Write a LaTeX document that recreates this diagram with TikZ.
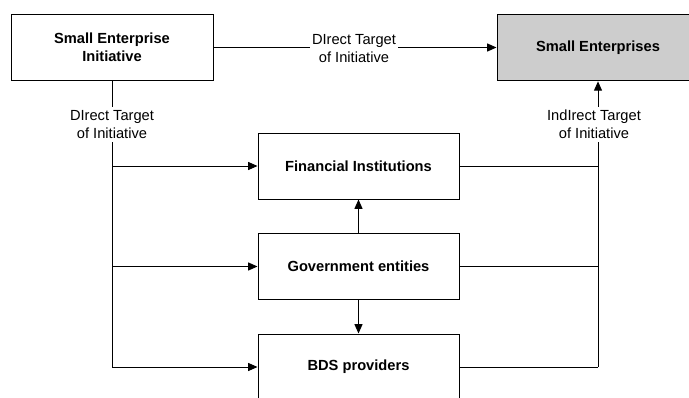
\documentclass[tikz,border=0pt]{standalone}
\usepackage{fontspec}
\setmainfont{Liberation Sans}
\usetikzlibrary{arrows.meta}
\definecolor{boxgray}{RGB}{205,205,205}
\begin{document}
\begin{tikzpicture}[x=0.75pt,y=-0.75pt,
  every node/.style={font=\fontsize{11}{13.5}\selectfont},
  bigbox/.style={draw, line width=0.75pt, inner sep=0pt, minimum width=151.5pt, minimum height=50pt, align=center, font=\fontsize{11}{13.5}\selectfont\bfseries},
  midbox/.style={draw, line width=0.75pt, inner sep=0pt, minimum width=150.75pt, minimum height=49.5pt, align=center, font=\fontsize{11}{13.5}\selectfont\bfseries},
  lbl/.style={fill=white, inner xsep=1.5pt, inner ysep=2.5pt, align=center},
  ln/.style={line width=0.75pt},
  arr/.style={line width=0.75pt, -{Triangle[length=7pt,width=6pt]}}]
\clip (0,0) rectangle (689,397);
\fill[white] (0,0) rectangle (689,397);
% boxes
\node[bigbox] (sei) at (112,47.5) {Small Enterprise\\Initiative};
\node[bigbox, fill=boxgray] (se) at (598,47.5) {Small Enterprises};
\node[midbox] (fi) at (358.5,166) {Financial Institutions};
\node[midbox] (ge) at (358.5,266.5) {Government entities};
\node[midbox] (bds) at (358.5,367) {BDS providers};
% labels
\node[lbl] (ltop) at (354,48.5) {DIrect Target\\of Initiative};
\node[lbl] (lleft) at (112,124.5) {DIrect Target\\of Initiative};
\node[lbl] (lright) at (594,124.5) {IndIrect Target\\of Initiative};
% coordinates
\coordinate (l1) at (112,166);
\coordinate (l2) at (112,266.5);
\coordinate (l3) at (112,367);
\coordinate (r1) at (598,166);
\coordinate (r2) at (598,266.5);
\coordinate (r3) at (598,367);
% top connector
\draw[ln] (sei.east) -- (sei.east -| ltop.west);
\draw[arr] (se.west -| ltop.east) -- (se.west);
% left trunk
\draw[ln] (sei.south) -- (lleft.north);
\draw[ln] (lleft.south) -- (l3);
\draw[arr] (l1) -- (fi.west);
\draw[arr] (l2) -- (ge.west);
\draw[arr] (l3) -- (bds.west);
% right trunk
\draw[ln] (fi.east) -- (r1);
\draw[ln] (ge.east) -- (r2);
\draw[ln] (bds.east) -- (r3);
\draw[ln] (r3) -- (lright.south -| r3);
\draw[arr] (lright.north -| se.south) -- (se.south);
% middle arrows
\draw[arr] (ge.north) -- (fi.south);
\draw[arr] (ge.south) -- (bds.north);
\end{tikzpicture}
\end{document}
